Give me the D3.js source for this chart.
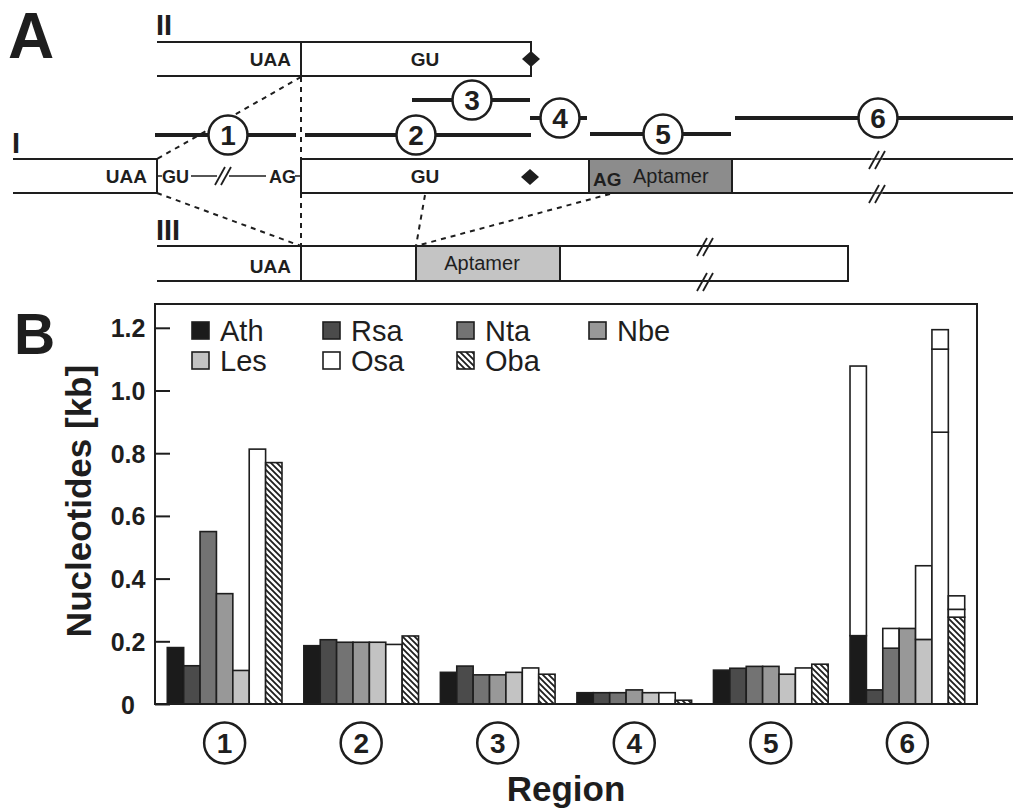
<!DOCTYPE html>
<html>
<head>
<meta charset="utf-8">
<script src="https://cdn.jsdelivr.net/npm/d3@7"></script>
<style>
  body { margin: 0; background: #fff; }
  svg { display: block; font-family: "Liberation Sans", Arial, sans-serif; }
</style>
</head>
<body>
<div id="chart"></div>
<script>
// ---- panel B data (kb per region) ----
const species = ['Ath', 'Rsa', 'Nta', 'Nbe', 'Les', 'Osa', 'Oba'];
const regions = ['1', '2', '3', '4', '5', '6'];

const ath = [0.180, 0.186, 0.101, 0.036, 0.108, 0.218];
const rsa = [0.122, 0.205, 0.121, 0.036, 0.114, 0.045];
const nta = [0.550, 0.197, 0.093, 0.036, 0.120, 0.178];
const nbe = [0.352, 0.197, 0.093, 0.045, 0.120, 0.241];
const les = [0.107, 0.197, 0.101, 0.036, 0.095, 0.206];
const osa = [0.813, 0.190, 0.115, 0.036, 0.115, 0.867];
const oba = [0.770, 0.217, 0.095, 0.012, 0.127, 0.277];

// region 6: longer alternative ends, stacked as open segments
const region6Upper = [[1.078], [], [0.241], [], [0.441], [1.132, 1.194], [0.302, 0.345]];

const yTicks = [0, 0.2, 0.4, 0.6, 0.8, 1.0, 1.2];
const legendRows = [['Ath', 'Rsa', 'Nta', 'Nbe'], ['Les', 'Osa', 'Oba']];

const seriesValues = [ath, rsa, nta, nbe, les, osa, oba];
const fills = ['#1b1b1b', '#4b4b4b', '#737373', '#989898', '#c3c3c3', '#ffffff', 'url(#hatch)'];

const width = 1013, height = 808;
const ink = '#1e1e1e';

const svg = d3.select('#chart').append('svg')
    .attr('width', width)
    .attr('height', height);

const defs = svg.append('defs');
const hatch = defs.append('pattern')
    .attr('id', 'hatch')
    .attr('patternUnits', 'userSpaceOnUse')
    .attr('width', 6).attr('height', 6);
hatch.append('rect').attr('width', 6).attr('height', 6).attr('fill', '#fff');
hatch.append('path')
    .attr('d', 'M-1,-1 L7,7 M-4,2 L4,10 M2,-4 L10,4')
    .attr('stroke', ink).attr('stroke-width', 1.8);

// =====================  PANEL A : gene model schematic  =====================
const A = svg.append('g').attr('class', 'panelA');

A.append('text').attr('x', 8).attr('y', 58)
    .attr('font-size', 64).attr('font-weight', 'bold').attr('fill', ink).text('A');

const line = (g, x1, y1, x2, y2, w = 2, dash = null) => {
  const l = g.append('line')
    .attr('x1', x1).attr('y1', y1).attr('x2', x2).attr('y2', y2)
    .attr('stroke', ink).attr('stroke-width', w);
  if (dash) l.attr('stroke-dasharray', dash);
  return l;
};
const label = (g, x, y, txt, anchor = 'start', size = 19, weight = 'bold') =>
  g.append('text').attr('x', x).attr('y', y)
    .attr('text-anchor', anchor).attr('font-size', size)
    .attr('font-weight', weight).attr('fill', ink).text(txt);
const diamond = (g, cx, cy) =>
  g.append('path')
    .attr('d', `M${cx - 9},${cy} L${cx},${cy - 8} L${cx + 9},${cy} L${cx},${cy + 8} Z`)
    .attr('fill', ink);
const breakMark = (g, cx, cy) => {
  [-3, 3].forEach(dx => line(g, cx + dx - 5, cy + 9, cx + dx + 5, cy - 9, 1.8));
};

// dashed connectors (drawn first, under everything)
const dash = '5,5';
line(A, 301, 77, 157, 159, 2, dash);
line(A, 301, 77, 301, 159, 2, dash);
line(A, 157, 193, 301, 246, 2, dash);
line(A, 301, 193, 301, 246, 2, dash);
line(A, 425, 195, 416, 246, 2, dash);
line(A, 610, 194, 416, 246, 2, dash);

// --- transcript II
label(A, 156, 35, 'II', 'start', 29);
line(A, 157, 42, 531, 42);
line(A, 157, 76, 531, 76);
line(A, 301, 41, 301, 77);
line(A, 531, 41, 531, 77);
label(A, 291, 66, 'UAA', 'end');
label(A, 425, 66, 'GU', 'middle');
diamond(A, 531, 59);

// --- transcript I
label(A, 12, 153, 'I', 'start', 29);
line(A, 13, 159, 157, 159);
line(A, 13, 193, 157, 193);
line(A, 157, 158, 157, 194);
label(A, 147, 183, 'UAA', 'end');
line(A, 157, 176, 162, 176, 1.5);
label(A, 162, 183, 'GU', 'start', 18);
line(A, 191, 176, 266, 176, 1.5);
A.append('rect').attr('x', 217).attr('y', 168).attr('width', 12).attr('height', 16).attr('fill', '#fff');
breakMark(A, 223, 176);
label(A, 296, 183, 'AG', 'end', 18);
line(A, 295, 176, 301, 176, 1.5);
line(A, 301, 158, 301, 194);
line(A, 301, 159, 1013, 159);
line(A, 301, 193, 1013, 193);
label(A, 425, 183, 'GU', 'middle');
diamond(A, 530, 177);
A.append('rect').attr('x', 589).attr('y', 159).attr('width', 143).attr('height', 34)
    .attr('fill', '#8c8c8c').attr('stroke', ink).attr('stroke-width', 2);
label(A, 593, 186, 'AG', 'start', 19);
label(A, 633, 183, 'Aptamer', 'start', 20, 'normal');
A.append('rect').attr('x', 871).attr('y', 150).attr('width', 12).attr('height', 18).attr('fill', '#fff');
A.append('rect').attr('x', 871).attr('y', 184).attr('width', 12).attr('height', 18).attr('fill', '#fff');
line(A, 868, 159, 886, 159, 1.5);
line(A, 868, 193, 886, 193, 1.5);
breakMark(A, 877, 160);
breakMark(A, 877, 194);

// --- transcript III
label(A, 156, 240, 'III', 'start', 29);
line(A, 157, 246, 848, 246);
line(A, 157, 281, 848, 281);
line(A, 301, 245, 301, 282);
A.append('rect').attr('x', 416).attr('y', 246).attr('width', 144).attr('height', 35)
    .attr('fill', '#c4c4c4').attr('stroke', ink).attr('stroke-width', 2);
line(A, 848, 245, 848, 282);
label(A, 291, 273, 'UAA', 'end');
label(A, 482, 270, 'Aptamer', 'middle', 20, 'normal');
breakMark(A, 705, 247);
breakMark(A, 705, 282);

// --- numbered regions above transcript I
const regionSpans = [
  { n: '1', y: 135, x1: 155, x2: 296, c: 228 },
  { n: '2', y: 135, x1: 305, x2: 531, c: 416 },
  { n: '3', y: 100, x1: 412, x2: 530, c: 472 },
  { n: '4', y: 118, x1: 530, x2: 587, c: 560 },
  { n: '5', y: 134, x1: 590, x2: 731, c: 663 },
  { n: '6', y: 118, x1: 735, x2: 1013, c: 878 }
];
const rg = A.selectAll('g.region').data(regionSpans).enter().append('g').attr('class', 'region');
rg.append('line')
    .attr('x1', d => d.x1).attr('x2', d => d.x2)
    .attr('y1', d => d.y).attr('y2', d => d.y)
    .attr('stroke', ink).attr('stroke-width', 4);
rg.append('circle')
    .attr('cx', d => d.c).attr('cy', d => d.y).attr('r', 19.5)
    .attr('fill', '#fff').attr('stroke', ink).attr('stroke-width', 2.5);
rg.append('text')
    .attr('x', d => d.c).attr('y', d => d.y + 10)
    .attr('text-anchor', 'middle').attr('font-size', 28).attr('font-weight', 'bold')
    .attr('fill', ink).text(d => d.n);

// =====================  PANEL B : bar chart  =====================
const plot = { left: 155, right: 977, top: 304, bottom: 704 };

const x0 = d3.scaleBand()
    .domain(regions)
    .range([plot.left, plot.right])
    .paddingInner(0.16)
    .paddingOuter(0.09);
const x1 = d3.scaleBand()
    .domain(species)
    .range([0, x0.bandwidth()]);
const y = d3.scaleLinear()
    .domain([0, 1.2])
    .range([plot.bottom, plot.bottom - 1.2 * 313.5]);
const color = d3.scaleOrdinal().domain(species).range(fills);

const B = svg.append('g').attr('class', 'panelB');

B.append('text').attr('x', 14).attr('y', 354)
    .attr('font-size', 57).attr('font-weight', 'bold').attr('fill', ink).text('B');

// bar segments
const segments = [];
species.forEach((sp, si) => {
  regions.forEach((r, ri) => {
    const v = seriesValues[si][ri];
    segments.push({ sp, r, y0: 0, y1: v, fill: color(sp) });
    if (r === '6') {
      let prev = v;
      region6Upper[si].forEach(top => {
        segments.push({ sp, r, y0: prev, y1: top, fill: '#fff' });
        prev = top;
      });
    }
  });
});

B.append('g').selectAll('rect')
  .data(segments)
  .enter().append('rect')
    .attr('x', d => x0(d.r) + x1(d.sp))
    .attr('width', x1.bandwidth())
    .attr('y', d => y(d.y1))
    .attr('height', d => y(d.y0) - y(d.y1))
    .attr('fill', d => d.fill)
    .attr('stroke', ink)
    .attr('stroke-width', 1.6);

// frame
B.append('rect')
    .attr('x', plot.left).attr('y', plot.top)
    .attr('width', plot.right - plot.left).attr('height', plot.bottom - plot.top)
    .attr('fill', 'none').attr('stroke', ink).attr('stroke-width', 2);

// y axis with inward ticks
const yAxis = d3.axisLeft(y)
    .tickValues(yTicks)
    .tickFormat(d => d === 0 ? '0' : d3.format('.1f')(d))
    .tickSizeInner(-15)
    .tickSizeOuter(0);
const yAxisG = B.append('g')
    .attr('transform', `translate(${plot.left},0)`)
    .call(yAxis);
yAxisG.select('.domain').remove();
yAxisG.selectAll('.tick line').attr('stroke', ink).attr('stroke-width', 2);
yAxisG.selectAll('.tick text')
    .attr('x', -27)
    .attr('dy', '0.36em')
    .attr('text-anchor', 'middle')
    .attr('font-size', 25)
    .attr('font-weight', 'bold')
    .attr('font-family', '"Liberation Sans", Arial, sans-serif')
    .attr('fill', ink);

B.append('text')
    .attr('transform', `translate(91,501) rotate(-90)`)
    .attr('text-anchor', 'middle')
    .attr('font-size', 35).attr('font-weight', 'bold').attr('fill', ink)
    .text('Nucleotides [kb]');

// region labels under groups
const xl = B.selectAll('g.xlab').data(regions).enter().append('g')
    .attr('class', 'xlab')
    .attr('transform', d => `translate(${x0(d) + x0.bandwidth() / 2},743)`);
xl.append('circle').attr('r', 20.5)
    .attr('fill', '#fff').attr('stroke', ink).attr('stroke-width', 2.5);
xl.append('text').attr('y', 10)
    .attr('text-anchor', 'middle').attr('font-size', 28).attr('font-weight', 'bold')
    .attr('fill', ink).text(d => d);

B.append('text')
    .attr('x', (plot.left + plot.right) / 2).attr('y', 801)
    .attr('text-anchor', 'middle')
    .attr('font-size', 35).attr('font-weight', 'bold').attr('fill', ink)
    .text('Region');

// legend
const legendX = [192, 323, 457, 589];
const legendY = [331, 361];
legendRows.forEach((row, ri) => {
  row.forEach((sp, ci) => {
    const g = B.append('g').attr('transform', `translate(${legendX[ci]},${legendY[ri]})`);
    g.append('rect').attr('x', 0).attr('y', -9).attr('width', 17).attr('height', 17)
        .attr('fill', color(sp)).attr('stroke', ink).attr('stroke-width', 1.6);
    g.append('text').attr('x', 28).attr('y', 10)
        .attr('font-size', 29).attr('fill', ink).text(sp);
  });
});
</script>
</body>
</html>
